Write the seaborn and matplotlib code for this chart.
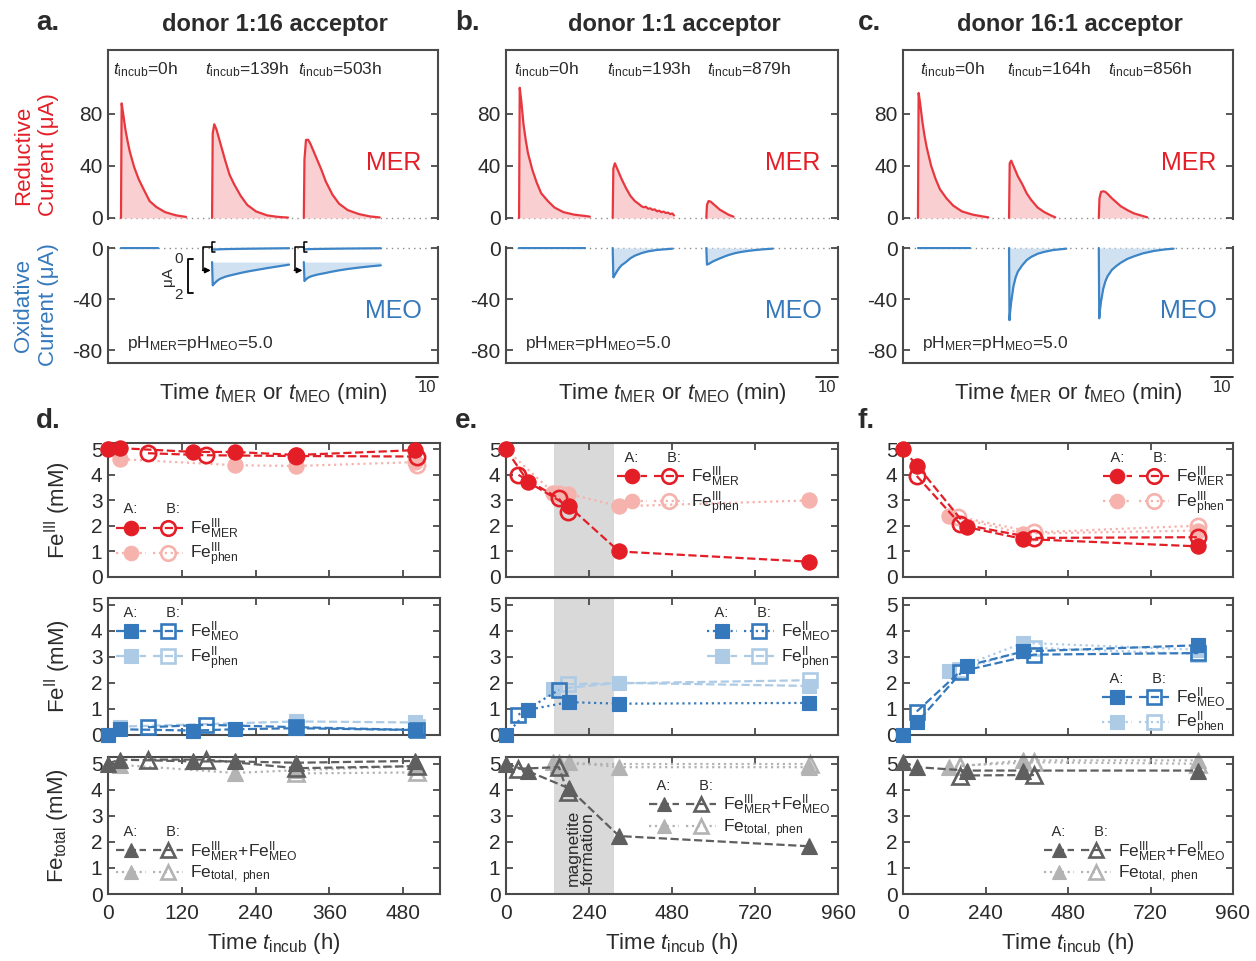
import numpy as np
import matplotlib
matplotlib.use("Agg")
import matplotlib.pyplot as plt
import seaborn as sns
from matplotlib.lines import Line2D
from matplotlib.legend_handler import HandlerTuple

# ------------------------------------------------------------------
# Top row: current transients after each spike (time in min, current in uA)
# ------------------------------------------------------------------
A_START = [5.9, 47.3, 89.0]
B_START = [5.9, 48.2, 90.5]
C_START = [6.8, 48.2, 89.0]
A_INCUB = ["0h", "139h", "503h"]
B_INCUB = ["0h", "193h", "879h"]
C_INCUB = ["0h", "164h", "856h"]

A_MER_T0 = [0, 0.3, 1, 2, 3, 4, 6, 8, 10, 13, 16, 20, 25, 29.6]
A_MER_I0 = [0, 88, 80, 68, 59, 51, 39, 30, 23, 13, 8.5, 4.5, 2, 0.8]
A_MER_T1 = [0, 0.3, 1, 2, 3, 4, 6, 8, 10, 13, 16, 20, 25, 30, 34.5]
A_MER_I1 = [0, 65, 72, 68, 62, 56, 44, 33, 26, 17, 10, 5, 2, 0.8, 0.3]
A_MER_T2 = [0, 0.3, 1, 2, 3, 4, 6, 8, 10, 13, 16, 20, 25, 30, 34.5]
A_MER_I2 = [0, 45, 60, 60, 57, 53, 45, 37, 28, 18, 11, 6, 3, 1.2, 0.4]

A_MEO_T0 = [0, 16.8]
A_MEO_I0 = [0, 0]
A_MEO_T1 = [0, 0.3, 1, 2, 3, 4, 6, 8, 10, 13, 16, 20, 25, 30, 35]
A_MEO_I1 = [0, -1.35, -1.25, -1.12, -1.02, -0.95, -0.85, -0.78, -0.72, -0.63, -0.55, -0.46, -0.35, -0.25, -0.15]
A_MEO_T2 = [0, 0.3, 1, 2, 3, 4, 6, 8, 10, 13, 16, 20, 25, 30, 35]
A_MEO_I2 = [0, -1.1, -1.0, -0.9, -0.84, -0.8, -0.73, -0.68, -0.63, -0.55, -0.48, -0.4, -0.32, -0.25, -0.19]

B_MER_T0 = [0, 0.3, 1, 2, 3, 4, 6, 8, 10, 13, 16, 20, 25, 30, 32]
B_MER_I0 = [0, 100, 90, 72, 60, 50, 37, 27, 19, 13, 8, 4.5, 2.5, 1.5, 1]
B_MER_T1 = [0, 0.3, 1, 2, 3, 4, 6, 8, 10, 12, 13, 14, 15, 16, 17, 18, 19, 20, 21, 22, 23, 24, 25, 26, 27, 27.7]
B_MER_I1 = [0, 38, 42, 38, 34, 30, 23, 17, 13, 10.5, 9, 8.2, 8.6, 7.1, 7.4, 6.2, 6.6, 5.1, 5.6, 4.4, 4.9, 3.8, 4.1, 3.0, 3.4, 2]
B_MER_T2 = [0, 0.3, 1, 2, 3, 4, 6, 8, 10, 12.3]
B_MER_I2 = [0, 10, 13, 12.5, 11, 9.5, 6.5, 4.5, 2.5, 1]

B_MEO_T0 = [0, 30]
B_MEO_I0 = [0, 0]
B_MEO_T1 = [0, 0.3, 1, 2, 3, 4, 6, 8, 10, 13, 16, 20, 25, 27]
B_MEO_I1 = [0, -23, -21, -18, -15.5, -13.5, -11, -8, -6, -4, -2.6, -1.5, -0.8, -0.5]
B_MEO_T2 = [0, 0.3, 1, 2, 3, 4, 6, 8, 10, 13, 16, 20, 25, 30]
B_MEO_I2 = [0, -13, -12.5, -11.5, -10.5, -9.7, -8.2, -6.8, -5.5, -4, -3, -2, -1.1, -0.5]

C_MER_T0 = [0, 0.3, 1, 2, 3, 4, 6, 8, 10, 13, 16, 20, 25, 30, 32]
C_MER_I0 = [0, 96, 88, 74, 63, 54, 40, 30, 22, 15, 9.5, 5, 2.5, 1, 0.5]
C_MER_T1 = [0, 0.3, 1, 2, 3, 4, 6, 8, 10, 13, 16, 19, 21]
C_MER_I1 = [0, 42, 44, 40, 36, 32, 26, 19, 14, 8, 4.5, 2, 0.5]
C_MER_T2 = [0, 0.3, 1, 2, 3, 4, 6, 8, 10, 13, 16, 19, 22]
C_MER_I2 = [0, 15, 20, 20.5, 20, 18.5, 15, 12, 9, 6, 3.5, 2, 0.5]

C_MEO_T0 = [0, 23.6]
C_MEO_I0 = [0, 0]
C_MEO_T1 = [0, 0.2, 0.5, 1, 2, 3, 4, 6, 8, 10, 13, 16, 20, 26]
C_MEO_I1 = [0, -56.5, -50, -42, -30, -23, -18.5, -13.5, -9.5, -7, -4.5, -3, -1.6, -0.5]
C_MEO_T2 = [0, 0.2, 0.5, 1, 2, 3, 4, 6, 8, 10, 13, 16, 20, 25, 30, 34]
C_MEO_I2 = [0, -55, -49, -42, -32, -26, -22, -17, -14, -11.5, -8.5, -6.5, -4.2, -2.3, -1.1, -0.5]

# ------------------------------------------------------------------
# Bottom rows: iron speciation over incubation time (h, mM)
# ------------------------------------------------------------------
# donor 1:16 acceptor
D_T_A = [0, 19, 139, 206, 306, 499]
D_T_B = [65, 160, 306, 503]
D_FE3_MER_A = [5.0, 5.05, 4.9, 4.9, 4.78, 4.97]
D_FE3_MER_B = [4.85, 4.77, 4.74, 4.72]
D_FE3_PHEN_A_T = [0, 19, 206, 306, 499]
D_FE3_PHEN_A = [5.0, 4.62, 4.38, 4.35, 4.5]
D_FE3_PHEN_B_T = [503]
D_FE3_PHEN_B = [4.4]
D_FE2_MEO_A = [0.0, 0.22, 0.17, 0.22, 0.26, 0.19]
D_FE2_MEO_B = [0.3, 0.39, 0.3, 0.19]
D_FE2_PHEN_A_T = [0, 19, 306, 499]
D_FE2_PHEN_A = [0.0, 0.32, 0.52, 0.48]
D_FE2_PHEN_B_T = [503]
D_FE2_PHEN_B = [0.3]
D_TOT_A = [5.0, 5.15, 5.08, 5.08, 5.03, 5.1]
D_TOT_B = [5.15, 5.15, 4.82, 4.9]
D_TOT_PHEN_A_T = [19, 206, 306, 499]
D_TOT_PHEN_A = [4.95, 4.64, 4.74, 4.9]
D_TOT_PHEN_B_T = [306, 503]
D_TOT_PHEN_B = [4.62, 4.66]

# donor 1:1 acceptor
E_T_A = [0, 65, 182, 327, 876]
E_FE3_MER_A = [5.0, 3.71, 2.77, 1.0, 0.6]
E_FE3_MER_B_T = [36, 153, 178]
E_FE3_MER_B = [4.0, 3.08, 2.55]
E_FE3_PHEN_A_T = [0, 137, 178, 327, 876]
E_FE3_PHEN_A = [5.0, 3.3, 3.27, 2.77, 3.0]
E_FE3_PHEN_B_T = [153]
E_FE3_PHEN_B = [3.25]
E_FE2_MEO_A = [0.0, 0.97, 1.26, 1.2, 1.23]
E_FE2_MEO_B_T = [36, 153]
E_FE2_MEO_B = [0.78, 1.73]
E_FE2_PHEN_A_T = [137, 327, 876]
E_FE2_PHEN_A = [1.75, 2.0, 1.88]
E_FE2_PHEN_B_T = [178, 879]
E_FE2_PHEN_B = [1.95, 2.1]
E_TOT_A = [5.0, 4.7, 4.05, 2.22, 1.83]
E_TOT_B_T = [36, 153, 178]
E_TOT_B = [4.8, 4.86, 3.9]
E_TOT_PHEN_A_T = [137, 182, 327, 876]
E_TOT_PHEN_A = [5.05, 5.05, 4.86, 4.86]
E_TOT_PHEN_B_T = [153, 879]
E_TOT_PHEN_B = [5.0, 5.0]
MAGNETITE_WINDOW = [139, 312]

# donor 16:1 acceptor
F_T_A = [0, 42, 187, 350, 859]
F_T_B = [40, 166, 381, 859]
F_FE3_MER_A = [5.0, 4.35, 1.95, 1.49, 1.2]
F_FE3_MER_B = [3.96, 2.08, 1.53, 1.56]
F_FE3_PHEN_A_T = [135, 350, 859]
F_FE3_PHEN_A = [2.4, 1.7, 1.82]
F_FE3_PHEN_B_T = [161, 381, 859]
F_FE3_PHEN_B = [2.36, 1.75, 2.01]
F_FE2_MEO_A = [0.0, 0.5, 2.66, 3.2, 3.44]
F_FE2_MEO_B = [0.9, 2.43, 3.08, 3.14]
F_FE2_PHEN_A_T = [135, 350, 859]
F_FE2_PHEN_A = [2.45, 3.53, 3.27]
F_FE2_PHEN_B_T = [166, 381, 859]
F_FE2_PHEN_B = [2.5, 3.34, 3.1]
F_TOT_A = [5.05, 4.86, 4.73, 4.73, 4.73]
F_TOT_B_T = [166, 381]
F_TOT_B = [4.54, 4.56]
F_TOT_PHEN_A_T = [135, 350, 859]
F_TOT_PHEN_A = [4.86, 5.12, 5.12]
F_TOT_PHEN_B_T = [166, 381, 859]
F_TOT_PHEN_B = [4.92, 5.05, 4.99]

# ------------------------------------------------------------------
# Style
# ------------------------------------------------------------------
sns.set_theme(style="ticks")
plt.rcParams["font.family"] = ["Liberation Sans", "DejaVu Sans"]
plt.rcParams["mathtext.fontset"] = "custom"
plt.rcParams["mathtext.rm"] = "Liberation Sans"
plt.rcParams["mathtext.it"] = "Liberation Sans:italic"
plt.rcParams["mathtext.bf"] = "Liberation Sans:bold"
plt.rcParams["axes.unicode_minus"] = False

RED = "#e31e26"
PINK = "#f6b2ac"
BLUE = "#3579bc"
LBLUE = "#aecbe6"
DGRAY = "#5f5f5f"
LGRAY = "#b3b3b3"
TRACE_RED = "#e8383f"
FILL_RED = "#f9cfd2"
TRACE_BLUE = "#3d85c6"
FILL_BLUE = "#d0e2f2"
SPINE = "#4a4a4a"
TXT = "#2b2b2b"

W, H = 1256, 961
fig = plt.figure(figsize=(W / 100, H / 100), dpi=100)


def rect(x0, y0, x1, y1):
    return [x0 / W, 1 - y1 / H, (x1 - x0) / W, (y1 - y0) / H]


def fx(px):
    return px / W


def fy(py):
    return 1 - py / H


TOP_X = [(108, 438), (506, 838), (903, 1233)]
BOT_X = [(108, 440), (506, 838), (903, 1233)]
MER_Y = (50, 219)
MEO_Y = (247, 363)
ROW_Y = [(443, 577), (598, 735), (757, 894)]


def style_spines(ax, hide):
    for k, sp in ax.spines.items():
        sp.set_color(SPINE)
        sp.set_linewidth(1.5)
        if k in hide:
            sp.set_visible(False)


def draw_trace(ax, start, t, i, line_c, fill_c):
    x = np.asarray(t, float) + start
    y = np.asarray(i, float)
    ax.fill_between(x, 0, y, color=fill_c, lw=0, zorder=1)
    sns.lineplot(x=x, y=y, ax=ax, color=line_c, lw=1.6, sort=False,
                 estimator=None, zorder=3)


panels_top = [
    dict(starts=A_START, incub=A_INCUB,
         mer=[(A_MER_T0, A_MER_I0), (A_MER_T1, A_MER_I1), (A_MER_T2, A_MER_I2)],
         meo=[(A_MEO_T0, A_MEO_I0), (A_MEO_T1, A_MEO_I1), (A_MEO_T2, A_MEO_I2)],
         title="donor 1:16 acceptor", letter="a.", incub_x=[2.3, 44.0, 86.4]),
    dict(starts=B_START, incub=B_INCUB,
         mer=[(B_MER_T0, B_MER_I0), (B_MER_T1, B_MER_I1), (B_MER_T2, B_MER_I2)],
         meo=[(B_MEO_T0, B_MEO_I0), (B_MEO_T1, B_MEO_I1), (B_MEO_T2, B_MEO_I2)],
         title="donor 1:1 acceptor", letter="b.", incub_x=[3.6, 45.5, 91.0]),
    dict(starts=C_START, incub=C_INCUB,
         mer=[(C_MER_T0, C_MER_I0), (C_MER_T1, C_MER_I1), (C_MER_T2, C_MER_I2)],
         meo=[(C_MEO_T0, C_MEO_I0), (C_MEO_T1, C_MEO_I1), (C_MEO_T2, C_MEO_I2)],
         title="donor 16:1 acceptor", letter="c.", incub_x=[7.7, 47.3, 93.2]),
]

INSET_BASE = -11.0   # baseline of the magnified MEO traces (plot units)
INSET_GAIN = 13.5    # magnification of the weak MEO transients

for col, p in enumerate(panels_top):
    x0, x1 = TOP_X[col]
    axr = fig.add_axes(rect(x0, MER_Y[0], x1, MER_Y[1]))
    axo = fig.add_axes(rect(x0, MEO_Y[0], x1, MEO_Y[1]))

    for s, (t, i) in zip(p["starts"], p["mer"]):
        draw_trace(axr, s, t, i, TRACE_RED, FILL_RED)
    for k, (s, (t, i)) in enumerate(zip(p["starts"], p["meo"])):
        draw_trace(axo, s, t, i, TRACE_BLUE, FILL_BLUE)
        if col == 0 and k > 0:
            # magnified copy of the weak oxidative transient
            x = np.asarray(t, float) + s
            y = INSET_BASE + INSET_GAIN * np.asarray(i, float)
            axo.fill_between(x, INSET_BASE, y, color=FILL_BLUE, lw=0, zorder=1)
            sns.lineplot(x=x, y=y, ax=axo, color=TRACE_BLUE, lw=1.6,
                         sort=False, estimator=None, zorder=3)
            # bracket on the raw trace and elbow arrow pointing to the magnified copy
            axo.plot([s + 1.3, s, s, s + 1.3], [4.5, 4.5, -3.5, -3.5],
                     color="black", lw=1.1, clip_on=False, zorder=4)
            xa = s - 4.1
            axo.plot([s, xa, xa], [0.5, 0.5, INSET_BASE - 6.5], color="black",
                     lw=1.1, clip_on=False, zorder=4)
            axo.annotate("", xy=(s - 0.6, INSET_BASE - 6.5),
                         xytext=(xa - 0.2, INSET_BASE - 6.5),
                         arrowprops=dict(arrowstyle="-|>", color="black", lw=1.1,
                                         mutation_scale=8, shrinkA=0, shrinkB=0))
    if col == 0:
        # scale bar of the magnified traces (2 uA)
        bx = 36.4
        ytop, ybot = INSET_BASE + 2.5, INSET_BASE + 2.5 - 2 * INSET_GAIN
        axo.plot([bx + 2.2, bx, bx, bx + 2.2], [ytop, ytop, ybot, ybot],
                 color="black", lw=1.3, zorder=4)
        axo.text(bx - 4.4, ytop, "0", ha="center", va="center", fontsize=11, color=TXT)
        axo.text(bx - 4.4, ybot - 1, "2", ha="center", va="center", fontsize=11, color=TXT)
        axo.text(bx - 9.0, (ytop + ybot) / 2, "μA", ha="center", va="center",
                 rotation=90, fontsize=11, color=TXT)

    for ax in (axr, axo):
        ax.set_xlim(0, 150)
        ax.set_xticks([])
        ax.set_xlabel("")
        ax.set_ylabel("")
        ax.axhline(0, color="#8c8c8c", lw=1.0, ls=(0, (1, 3)), zorder=0, clip_on=False)
        ax.tick_params(axis="y", direction="in", left=True, right=True, length=5,
                       width=1.3, color=SPINE, labelsize=15, labelcolor=TXT, pad=4)
    axr.set_ylim(-0.8, 129)
    axr.set_yticks([0, 40, 80])
    axo.set_ylim(-90, 0.8)
    axo.set_yticks([0, -40, -80])
    style_spines(axr, ["bottom"])
    style_spines(axo, ["top"])

    for xt, lab in zip(p["incub_x"], p["incub"]):
        axr.text(xt, 114, r"$t_{\rm incub}$=" + lab, fontsize=12.5, color=TXT,
                 ha="left", va="center")
    axr.text(0.865, 0.33, "MER", transform=axr.transAxes, fontsize=18,
             color=RED, ha="center", va="center")
    axo.text(0.865, 0.445, "MEO", transform=axo.transAxes, fontsize=18,
             color=BLUE, ha="center", va="center")
    axo.text(0.057, 0.17, r"pH$_{\rm MER}$=pH$_{\rm MEO}$=5.0",
             transform=axo.transAxes, fontsize=12.5, color=TXT, ha="left", va="center")

    # 10 min scale bar
    axo.plot([140, 150], [-0.12, -0.12], color="#222222", lw=1.3,
             transform=axo.get_xaxis_transform(), clip_on=False)
    axo.text(145, -0.21, "10", transform=axo.get_xaxis_transform(), fontsize=12,
             color=TXT, ha="center", va="center")

    xc = (x0 + x1) / 2
    fig.text(fx(xc), fy(394), r"Time $t_{\rm MER}$ or $t_{\rm MEO}$ (min)",
             fontsize=16, color=TXT, ha="center", va="center")
    fig.text(fx(xc + 2), fy(25), p["title"], fontsize=17, fontweight="bold",
             color=TXT, ha="center", va="center")
    fig.text(fx([36, 455, 858][col]), fy(23), p["letter"], fontsize=20,
             fontweight="bold", color=TXT, ha="left", va="center")

fig.text(fx(36), fy(155), "Reductive\nCurrent (μA)", rotation=90, fontsize=16,
         color=RED, ha="center", va="center", linespacing=1.25)
fig.text(fx(36), fy(305), "Oxidative\nCurrent (μA)", rotation=90, fontsize=16,
         color=BLUE, ha="center", va="center", linespacing=1.25)

# ------------------------------------------------------------------
# Bottom rows
# ------------------------------------------------------------------


def series(ax, x, y, color, ls, marker, ms, filled, z):
    sns.lineplot(x=x, y=y, ax=ax, color=color, linestyle=ls, lw=1.6,
                 marker=marker, markersize=ms,
                 markerfacecolor=color if filled else "none",
                 markeredgecolor=color, markeredgewidth=0.8 if filled else 1.9,
                 sort=False, estimator=None, clip_on=False, zorder=z)


def legend(ax, marker, ms, c_main, c_phen, lab_main, lab_phen, loc, anchor,
           ls_main="--", ls_phen=":"):
    def h(c, ls, filled):
        return Line2D([], [], color=c, ls=ls, lw=1.6, marker=marker, ms=ms,
                      mfc=c if filled else "none", mec=c,
                      mew=0.8 if filled else 1.9)
    leg = ax.legend([(h(c_main, ls_main, True), h(c_main, ls_main, False)),
                     (h(c_phen, ls_phen, True), h(c_phen, ls_phen, False))],
                    [lab_main, lab_phen],
                    handler_map={tuple: HandlerTuple(ndivide=None, pad=0.4)},
                    loc=loc, bbox_to_anchor=anchor, frameon=False,
                    title="  A:       B:", title_fontsize=10.5, fontsize=12.5,
                    handlelength=3.85, handletextpad=0.4, labelspacing=0.0,
                    borderpad=0.2, borderaxespad=0.25, alignment="left")
    for t in leg.get_texts():
        t.set_color(TXT)
    leg.get_title().set_color(TXT)
    return leg


LAB3 = (r"Fe$^{\rm III}_{\rm MER}$", r"Fe$^{\rm III}_{\rm phen}$")
LAB2 = (r"Fe$^{\rm II}_{\rm MEO}$", r"Fe$^{\rm II}_{\rm phen}$")
LABT = (r"Fe$^{\rm III}_{\rm MER}$+Fe$^{\rm II}_{\rm MEO}$", r"Fe$_{\rm total,\ phen}$")

bottom = [
    dict(xmax=540, xt=[0, 120, 240, 360, 480], letter="d.",
         rows=[
             (D_T_A, D_FE3_MER_A, D_T_B, D_FE3_MER_B, D_FE3_PHEN_A_T, D_FE3_PHEN_A, D_FE3_PHEN_B_T, D_FE3_PHEN_B),
             (D_T_A, D_FE2_MEO_A, D_T_B, D_FE2_MEO_B, D_FE2_PHEN_A_T, D_FE2_PHEN_A, D_FE2_PHEN_B_T, D_FE2_PHEN_B),
             (D_T_A, D_TOT_A, D_T_B, D_TOT_B, D_TOT_PHEN_A_T, D_TOT_PHEN_A, D_TOT_PHEN_B_T, D_TOT_PHEN_B),
         ],
         legs=[("lower left", (0.0, 0.0)), ("upper left", (0.0, 1.0)), ("lower left", (0.0, 0.0))],
         styles=[("--", ":"), ("--", "--"), ("--", ":")]),
    dict(xmax=960, xt=[0, 240, 480, 720, 960], letter="e.",
         rows=[
             (E_T_A, E_FE3_MER_A, E_FE3_MER_B_T, E_FE3_MER_B, E_FE3_PHEN_A_T, E_FE3_PHEN_A, E_FE3_PHEN_B_T, E_FE3_PHEN_B),
             (E_T_A, E_FE2_MEO_A, E_FE2_MEO_B_T, E_FE2_MEO_B, E_FE2_PHEN_A_T, E_FE2_PHEN_A, E_FE2_PHEN_B_T, E_FE2_PHEN_B),
             (E_T_A, E_TOT_A, E_TOT_B_T, E_TOT_B, E_TOT_PHEN_A_T, E_TOT_PHEN_A, E_TOT_PHEN_B_T, E_TOT_PHEN_B),
         ],
         legs=[("upper left", (0.31, 1.0)), ("upper right", (1.0, 1.0)), ("upper right", (1.0, 0.9))],
         styles=[("--", ":"), (":", "--"), ("--", ":")]),
    dict(xmax=960, xt=[0, 240, 480, 720, 960], letter="f.",
         rows=[
             (F_T_A, F_FE3_MER_A, F_T_B, F_FE3_MER_B, F_FE3_PHEN_A_T, F_FE3_PHEN_A, F_FE3_PHEN_B_T, F_FE3_PHEN_B),
             (F_T_A, F_FE2_MEO_A, F_T_B, F_FE2_MEO_B, F_FE2_PHEN_A_T, F_FE2_PHEN_A, F_FE2_PHEN_B_T, F_FE2_PHEN_B),
             (F_T_A, F_TOT_A, F_TOT_B_T, F_TOT_B, F_TOT_PHEN_A_T, F_TOT_PHEN_A, F_TOT_PHEN_B_T, F_TOT_PHEN_B),
         ],
         legs=[("upper right", (1.0, 1.0)), ("upper right", (1.0, 0.52)), ("lower right", (1.0, 0.0))],
         styles=[("--", ":"), ("--", ":"), ("--", ":")]),
]

ROW_STYLE = [
    ("o", 11, RED, PINK, LAB3),
    ("s", 10, BLUE, LBLUE, LAB2),
    ("^", 11, DGRAY, LGRAY, LABT),
]
YLABELS = [r"Fe$^{\rm III}$ (mM)", r"Fe$^{\rm II}$ (mM)", r"Fe$_{\rm total}$ (mM)"]

for col, p in enumerate(bottom):
    x0, x1 = BOT_X[col]
    for r in range(3):
        y0, y1 = ROW_Y[r]
        ax = fig.add_axes(rect(x0, y0, x1, y1))
        marker, ms, c_main, c_phen, labs = ROW_STYLE[r]
        ta, ya, tb, yb, tpa, ypa, tpb, ypb = p["rows"][r]
        ls_main, ls_phen = p["styles"][r]
        if col == 1:
            ax.axvspan(*MAGNETITE_WINDOW, color="#d9d9d9", lw=0, zorder=0)
        series(ax, tpa, ypa, c_phen, ls_phen, marker, ms, True, 2)
        series(ax, tpb, ypb, c_phen, ls_phen, marker, ms, False, 2.1)
        series(ax, ta, ya, c_main, ls_main, marker, ms, True, 3)
        series(ax, tb, yb, c_main, ls_main, marker, ms, False, 3.1)
        loc, anchor = p["legs"][r]
        legend(ax, marker, ms * 0.95, c_main, c_phen, labs[0], labs[1], loc, anchor,
               ls_main=ls_main, ls_phen=ls_phen)

        ax.set_xlim(0, p["xmax"])
        ax.set_ylim(0, 5.25)
        ax.set_xticks(p["xt"])
        ax.set_yticks(range(6))
        ax.set_xlabel("")
        ax.set_ylabel("")
        ax.tick_params(direction="in", top=True, right=True, length=5, width=1.3,
                       color=SPINE, labelsize=15, labelcolor=TXT, pad=4)
        ax.tick_params(axis="x", pad=7)
        if r < 2:
            ax.tick_params(labelbottom=False)
        style_spines(ax, [])
        if col == 1 and r == 2:
            ax.text(sum(MAGNETITE_WINDOW) / 2 - 8, 1.75, "magnetite\nformation",
                    rotation=90, fontsize=12.5, color=TXT, ha="center", va="center",
                    linespacing=1.0)
        if col == 0:
            fig.text(fx(58), fy((y0 + y1) / 2), YLABELS[r], rotation=90, fontsize=16,
                     color=TXT, ha="center", va="center")
    xc = (x0 + x1) / 2
    fig.text(fx(xc), fy(944), r"Time $t_{\rm incub}$ (h)", fontsize=16,
             color=TXT, ha="center", va="center")
    fig.text(fx([36, 455, 858][col]), fy(421), p["letter"], fontsize=20,
             fontweight="bold", color=TXT, ha="left", va="center")

fig.savefig("out.png", dpi=100)
